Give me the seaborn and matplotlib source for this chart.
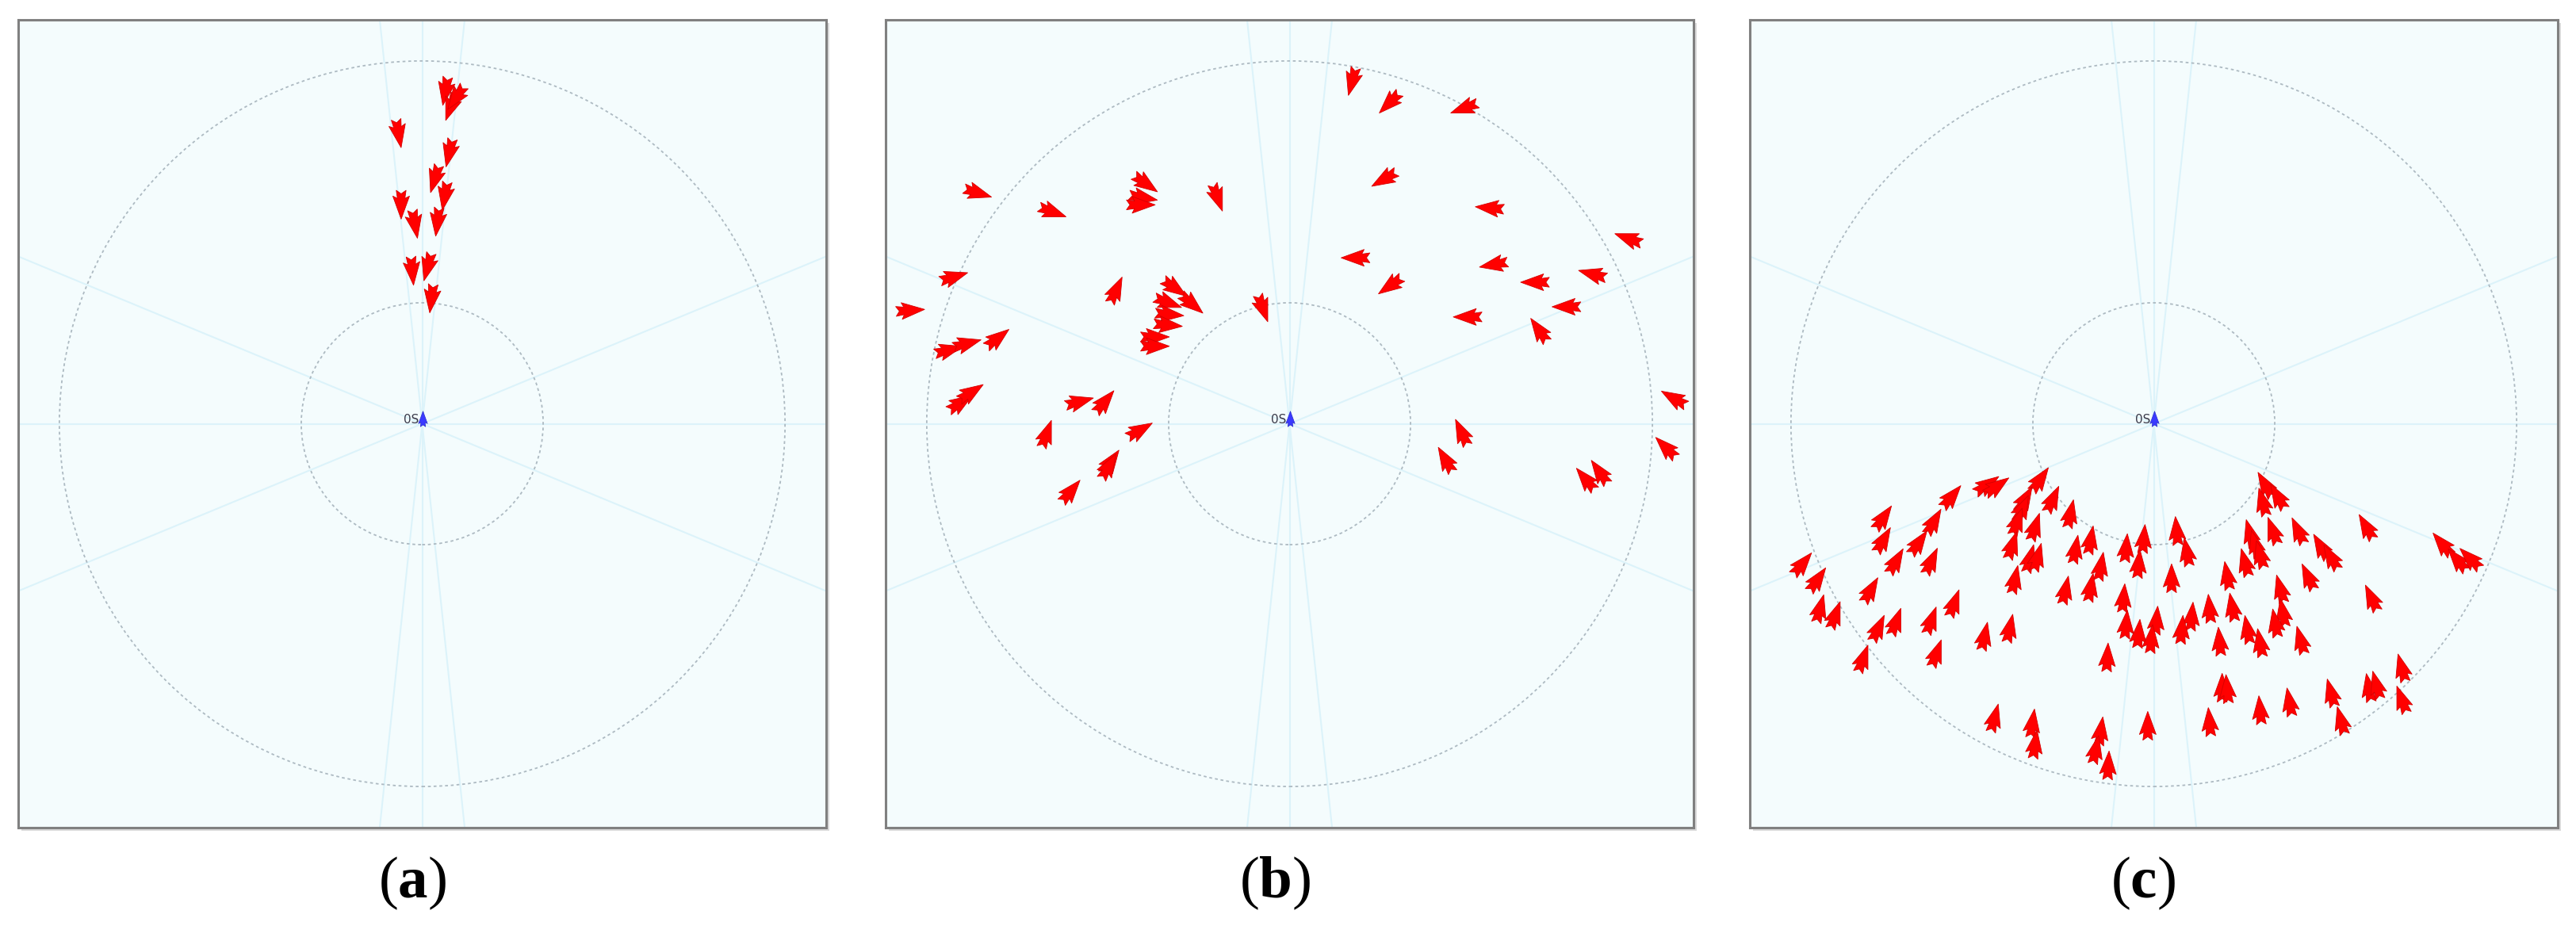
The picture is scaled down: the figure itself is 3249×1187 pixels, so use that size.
import numpy as np
import pandas as pd
import matplotlib
matplotlib.use("Agg")
import matplotlib.pyplot as plt
from matplotlib.path import Path
from matplotlib.transforms import Affine2D
from matplotlib.patches import Circle, Rectangle
import seaborn as sns

# ---- traffic positions (nm from own ship) and headings (deg, clockwise from north) ----
a_x = [1.91, 2.35, 2.79, -1.95, 2.24, 1.04, 1.87, -1.74, -0.60, 1.26, -0.82, 0.45, 0.77]
a_y = [27.5, 26.2, 26.96, 24.0, 22.4, 20.25, 18.83, 18.11, 16.51, 16.69, 12.64, 12.97, 10.35]
a_hdg = [190, 200, 215, 170, 193, 197, 190, 180, 170, 187, 175, 195, 187]

b_x = [-25.78, -19.60, -11.90, -12.10, -12.30, -5.96, -27.75, -31.36, -14.35, -9.50,
       -8.08, -10.05, -9.93, -10.05, -11.13, -11.13, -28.18, -26.66, -24.14, -27.20,
       -26.33, -17.37, -15.29, -20.10, -12.38, -14.79, -14.96, -18.09, -2.21, 5.17,
       8.26, 14.44, 7.82, 16.54, 28.01, 5.45, 16.87, 25.04, 8.32, 20.29,
       22.89, 14.72, 20.62, 31.77, 14.22, 12.89, 31.11, 24.48, 25.63]
b_y = [19.09, 17.52, 19.86, 18.70, 18.10, 18.70, 12.14, 9.37, 11.05, 11.23,
       9.91, 10.02, 9.04, 8.16, 7.18, 6.41, 6.09, 6.63, 7.07, 1.72,
       2.59, 1.82, 1.82, -0.84, -0.54, -3.16, -3.53, -5.58, 9.55, 28.30,
       26.53, 26.10, 20.23, 17.84, 15.31, 13.72, 13.16, 12.37, 11.42, 11.70,
       9.67, 8.83, 7.74, 2.10, -0.72, -2.98, -1.97, -4.59, -4.00]
b_hdg = [107, 110, 125, 100, 90, 160, 73, 86, 25, 125,
         130, 110, 95, 95, 90, 90, 75, 75, 52, 57,
         57, 75, 40, 20, 60, 35, 30, 40, 160, 195,
         225, 250, 240, 275, 290, 270, 260, 285, 235, 270,
         270, 270, 325, 300, 335, 330, 315, 320, 325]

c_x = [-9.40, -13.79, -12.96, -16.72, -10.66, -10.87, -8.36, -6.89, 9.21, 10.25,
       9.00, -22.37, -18.19, -11.29, -9.82, -22.37, -19.44, -11.70, -10.24, -9.61,
       -6.48, -5.22, -2.29, -0.83, 1.89, 2.73, 7.95, 8.37, 9.84, 11.93,
       13.81, 14.65, 17.57, 23.85, 25.10, 26.15, -1.25, 7.54, 8.79, -29.06,
       -21.32, -18.40, -11.49, -4.38, 1.47, 6.07, 12.76, -27.81, -23.41, -7.31,
       -5.22, 18.00, -2.50, 10.46, -27.60, -26.34, -16.51, 4.61, 6.49, 3.14,
       10.67, -21.32, -22.79, -18.40, -11.91, -14.00, -2.29, 0.22, -1.25, -0.20,
       2.31, 7.74, 10.04, 5.44, 8.79, 12.14, -24.04, -17.98, -3.84, 20.50,
       5.65, 6.07, 14.65, 17.78, 18.41, 20.50, -13.17, -10.03, -9.82, -4.38,
       -4.80, -3.76, -0.50, 4.61, 8.79, 11.22, 15.48]
c_y = [-4.61, -5.05, -5.16, -6.03, -6.25, -7.01, -6.25, -7.45, -5.05, -6.03,
       -6.47, -7.77, -8.10, -8.10, -8.54, -9.62, -9.84, -10.06, -11.15, -11.04,
       -10.39, -9.62, -10.28, -9.52, -8.86, -10.61, -9.08, -9.95, -8.86, -8.86,
       -10.17, -11.04, -8.54, -9.95, -11.26, -11.15, -11.59, -11.48, -10.82, -11.59,
       -11.37, -11.37, -12.89, -11.80, -12.78, -12.57, -12.67, -12.89, -13.76, -13.76,
       -13.55, -14.42, -14.42, -13.66, -15.29, -15.83, -14.85, -15.29, -15.18, -15.94,
       -15.62, -16.38, -16.92, -16.27, -16.92, -17.58, -16.60, -16.27, -17.36, -17.79,
       -17.03, -17.03, -16.49, -18.01, -18.12, -17.90, -19.43, -18.99, -19.32, -20.19,
       -21.83, -21.93, -22.26, -21.83, -21.61, -22.81, -24.33, -24.77, -26.51, -25.42,
       -26.95, -28.25, -24.98, -24.66, -23.68, -23.02, -24.55]
c_hdg = [35, 55, 55, 40, 30, 25, 25, 12, 330, 330,
         345, 35, 30, 20, 18, 30, 35, 18, 15, 15,
         10, 10, 5, 5, 355, 350, 345, 345, 340, 335,
         330, 330, 330, 320, 320, 315, 5, 345, 345, 40,
         30, 25, 12, 10, 0, 350, 335, 35, 30, 12,
         10, 335, 5, 345, 15, 20, 20, 355, 350, 5,
         350, 20, 25, 20, 12, 12, 5, 5, 5, 5,
         5, 350, 350, 355, 350, 345, 20, 20, 3, 345,
         0, 355, 345, 350, 345, 340, 15, 8, 8, 8,
         12, 3, 0, 355, 355, 350, 345]

panels = [("a", a_x, a_y, a_hdg), ("b", b_x, b_y, b_hdg), ("c", c_x, c_y, c_hdg)]

ring_radii = [10, 30]
spoke_bearings = [0, 6, -6, 90, 67.5, 112.5]
own_label = "0S"
own_x, own_y = 0.0, 0.0
view_range = 33.4

# dart symbol (nose along +y), length 1
DART = np.array([(0, 0.5), (0.29, -0.30), (0.13, -0.22), (0.17, -0.5), (0, -0.38),
                 (-0.17, -0.5), (-0.13, -0.22), (-0.29, -0.30)])


def dart_path(hdg):
    v = Affine2D().rotate_deg(-hdg).transform(DART)
    return Path(np.vstack([v, v[:1]]), closed=True)


sns.set_style("white")
plt.rcParams["mathtext.fontset"] = "custom"
plt.rcParams["mathtext.rm"] = "Liberation Serif"
plt.rcParams["mathtext.bf"] = "Liberation Serif:bold"

W, H = 3249, 1187
fig = plt.figure(figsize=(W / 100, H / 100), dpi=100)
fig.patch.set_facecolor("white")

lefts = [23, 1117, 2207]
cap_x = [520, 1608, 2703]
box = 1019
bottom = (H - 1044) / H

for (name, xs, ys, hs), lpx, cx in zip(panels, lefts, cap_x):
    rect = [lpx / W, bottom, box / W, box / H]
    # drop shadow of the display window
    fig.add_artist(Rectangle((rect[0] + 4 / W, rect[1] - 4 / H), rect[2], rect[3],
                             transform=fig.transFigure, fc="#dadada", ec="none", zorder=-1))
    ax = fig.add_axes(rect)
    ax.set_facecolor("#f4fcfd")
    ax.set_xlim(-view_range, view_range)
    ax.set_ylim(-view_range, view_range)
    ax.set_xticks([])
    ax.set_yticks([])
    for sp in ax.spines.values():
        sp.set_color("#808080")
        sp.set_linewidth(2.2)

    for b in spoke_bearings:
        dx, dy = np.sin(np.radians(b)) * 60, np.cos(np.radians(b)) * 60
        ax.plot([-dx, dx], [-dy, dy], color="#dcf3fa", lw=1.5, zorder=1)
    for r in ring_radii:
        ax.add_patch(Circle((own_x, own_y), r, fill=False, ec="#adbac2",
                            lw=1.3, ls=(0, (2, 2)), zorder=2))

    df = pd.DataFrame({"x": xs, "y": ys, "hdg": hs})
    sns.scatterplot(data=df, x="x", y="y", marker=Path(DART),
                    s=680, color="#ff0000", edgecolor="#d40000", linewidth=0.6,
                    legend=False, ax=ax, zorder=5)
    ax.collections[-1].set_paths([dart_path(h) for h in df["hdg"]])

    own = pd.DataFrame({"x": [own_x], "y": [own_y + 0.4]})
    sns.scatterplot(data=own, x="x", y="y", marker=Path(DART), s=200,
                    color="#3a3aff", edgecolor="#2020c0", linewidth=0.4,
                    legend=False, ax=ax, zorder=6)
    ax.collections[-1].set_paths([dart_path(0)])
    ax.text(own_x - 0.3, own_y + 0.35, own_label, ha="right", va="center",
            fontsize=11, color="#3a3a4a", zorder=7)
    ax.set_xlabel("")
    ax.set_ylabel("")

    fig.text(cx / W, 1 - 1114 / H, r"$\mathrm{(}\mathbf{%s}\mathrm{)}$" % name,
             ha="center", va="center", fontsize=54, color="black")

fig.savefig("out.png", dpi=100, facecolor="white")
